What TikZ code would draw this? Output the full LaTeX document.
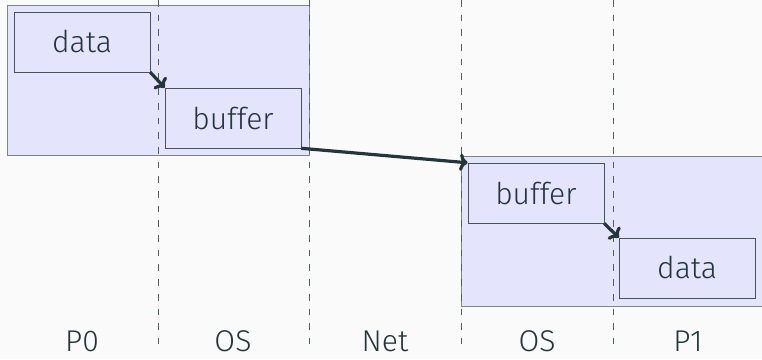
\documentclass[tikz,border=0pt]{standalone}
\usepackage{fontspec}
\setmainfont{Fira Sans Light}
\usepackage{tikz}
\usetikzlibrary{arrows.meta}
\definecolor{fondo}{HTML}{FAFAFA}
\definecolor{tinta}{HTML}{23373B}
\definecolor{lila}{HTML}{E4E4FC}
\definecolor{borde}{HTML}{7A8789}

\begin{document}
\begin{tikzpicture}[
            zona/.style={rectangle, draw=borde, fill=lila, minimum width=7.95cm, minimum height=3.95cm, inner sep=0pt},
            caja/.style={rectangle, draw=tinta!85, fill=lila, minimum width=3.58cm, minimum height=1.58cm, inner sep=0pt, text=tinta, font=\fontsize{22.5}{26}\selectfont},
            etiqueta/.style={text=tinta, font=\fontsize{22.5}{26}\selectfont, inner sep=0pt},
            limite/.style={tinta!80, dash pattern=on 5pt off 6pt, line width=0.7pt},
            flecha/.style={-{To[length=6pt, width=13pt, line width=2.4pt]}, line width=2.4pt, tinta}
        ]
            % Fondo
            \fill[fondo] (0, 0) rectangle (20.05, -9.447);
            \useasboundingbox (0, 0) rectangle (20.05, -9.447);

            % Zonas
            \node[zona] (zona0) at (4.158, -2.105) {};
            \node[zona] (zona1) at (16.1, -6.08) {};

            % Limites
            \draw[limite] (4.158, 0) -- (4.158, -9.05);
            \draw[limite] (8.13, 0) -- (8.13, -9.05);
            \draw[limite] (12.13, 0) -- (12.13, -9.05);
            \draw[limite] (16.13, 0) -- (16.13, -9.05);

            % Cajas del emisor
            \node[caja] (data0) at (2.158, -1.105) {data};
            \node[caja] (buffer0) at (6.13, -3.105) {buffer};

            % Cajas del receptor
            \node[caja] (buffer1) at (14.1, -5.08) {buffer};
            \node[caja] (data1) at (18.08, -7.05) {data};

            % Etiquetas
            \node[etiqueta] (p0) at (2.158, -8.98) {P0};
            \node[etiqueta] (os0) at (6.13, -8.98) {OS};
            \node[etiqueta] (net) at (10.13, -8.98) {Net};
            \node[etiqueta] (os1) at (14.13, -8.98) {OS};
            \node[etiqueta] (p1) at (18.1, -8.98) {P1};

            % Flechas
            \draw[flecha] (data0.south east) -- (buffer0.north west);
            \draw[flecha] (buffer0.south east) -- (buffer1.north west);
            \draw[flecha] (buffer1.south east) -- (data1.north west);

        \end{tikzpicture}
\end{document}
